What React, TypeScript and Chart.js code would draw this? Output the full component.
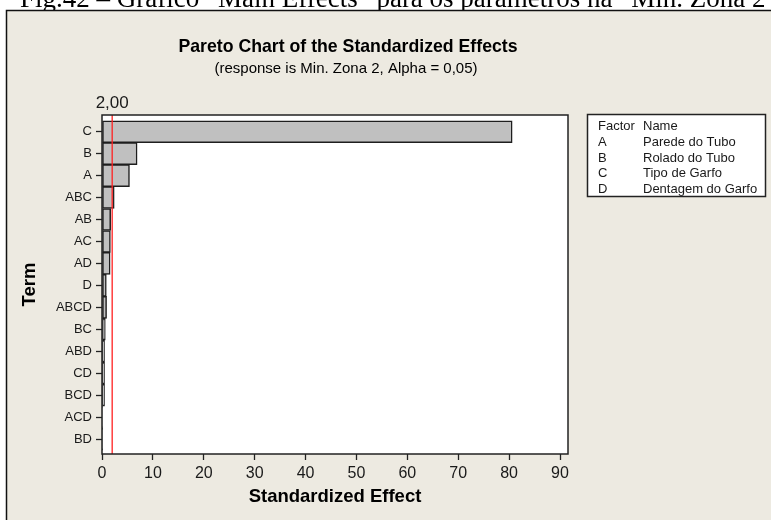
import React, { useEffect, useRef } from 'react';
import { Chart, registerables } from 'chart.js';

Chart.register(...registerables);

const terms = ['C', 'B', 'A', 'ABC', 'AB', 'AC', 'AD', 'D', 'ABCD', 'BC', 'ABD', 'CD', 'BCD', 'ACD', 'BD'];
const effects = [80.6, 6.9, 5.4, 2.4, 1.7, 1.65, 1.6, 0.85, 0.9, 0.65, 0.5, 0.5, 0.5, 0.1, 0.05];
const xTickValues = [0, 10, 20, 30, 40, 50, 60, 70, 80, 90];
const criticalValue = 2.0;
const criticalLabel = '2,00';
const legendHeader = ['Factor', 'Name'];
const factorCodes = ['A', 'B', 'C', 'D'];
const factorNames = ['Parede do Tubo', 'Rolado do Tubo', 'Tipo de Garfo', 'Dentagem do Garfo'];
const chartTitle = 'Pareto Chart of the Standardized Effects';
const chartSubtitle = '(response is Min. Zona 2, Alpha = 0,05)';
const xTitle = 'Standardized Effect';
const yTitle = 'Term';
const caption = 'Fig.42 – Gráfico “Main Effects” para os parâmetros na “Min. Zona 2”';

const W = 771;
const H = 520;
const BEIGE = '#EDEAE1';
const INK = '#1a1a1a';
const SANS = '"Liberation Sans", Arial, sans-serif';

const decor = {
  id: 'decor',
  beforeDraw(chart: any) {
    const ctx = chart.ctx as CanvasRenderingContext2D;
    const a = chart.chartArea;
    ctx.save();
    ctx.fillStyle = '#ffffff';
    ctx.fillRect(0, 0, W, H);
    ctx.fillStyle = '#000';
    ctx.font = '27px "Liberation Serif", serif';
    ctx.textAlign = 'left';
    ctx.textBaseline = 'alphabetic';
    ctx.fillText(caption, 20, 7);
    ctx.fillStyle = BEIGE;
    ctx.fillRect(6, 10, W, H);
    ctx.strokeStyle = '#111';
    ctx.lineWidth = 1.5;
    ctx.beginPath();
    ctx.moveTo(6.5, H);
    ctx.lineTo(6.5, 10.5);
    ctx.lineTo(W, 10.5);
    ctx.stroke();
    ctx.fillStyle = '#ffffff';
    ctx.fillRect(a.left, a.top, a.right - a.left, a.bottom - a.top);
    ctx.restore();
  },
  afterDatasetsDraw(chart: any) {
    const ctx = chart.ctx as CanvasRenderingContext2D;
    const a = chart.chartArea;
    const xs = chart.scales.x;
    const rx = xs.getPixelForValue(criticalValue);
    ctx.save();
    ctx.strokeStyle = '#ff2020';
    ctx.lineWidth = 1.3;
    ctx.beginPath();
    ctx.moveTo(rx, a.top);
    ctx.lineTo(rx, a.bottom);
    ctx.stroke();
    ctx.strokeStyle = '#222';
    ctx.lineWidth = 1.5;
    ctx.strokeRect(a.left, a.top, a.right - a.left, a.bottom - a.top);
    ctx.restore();
  },
  afterDraw(chart: any) {
    const ctx = chart.ctx as CanvasRenderingContext2D;
    const a = chart.chartArea;
    const xs = chart.scales.x;
    const rx = xs.getPixelForValue(criticalValue);
    ctx.save();
    ctx.fillStyle = '#000';
    ctx.textAlign = 'center';
    ctx.textBaseline = 'middle';
    ctx.font = 'bold 17.7px ' + SANS;
    ctx.fillText(chartTitle, 348, 47);
    ctx.font = '15px ' + SANS;
    ctx.fillText(chartSubtitle, 346, 69);
    ctx.fillStyle = INK;
    ctx.font = '17px ' + SANS;
    ctx.fillText(criticalLabel, rx, 103);
    ctx.fillStyle = '#000';
    ctx.font = 'bold 18.5px ' + SANS;
    ctx.fillText(xTitle, (a.left + a.right) / 2, 497);
    ctx.save();
    ctx.translate(30, (a.top + a.bottom) / 2);
    ctx.rotate(-Math.PI / 2);
    ctx.fillText(yTitle, 0, 0);
    ctx.restore();

    // legend box
    ctx.fillStyle = '#ffffff';
    ctx.fillRect(587, 115, 178, 82);
    ctx.strokeStyle = '#222';
    ctx.lineWidth = 1.5;
    ctx.strokeRect(587.5, 114.5, 178, 82);
    ctx.fillStyle = INK;
    ctx.textAlign = 'left';
    ctx.font = '13px ' + SANS;
    const col1 = 598;
    const col2 = 643;
    const rows = [126, 142, 158, 173, 189];
    ctx.fillText(legendHeader[0], col1, rows[0]);
    ctx.fillText(legendHeader[1], col2, rows[0]);
    factorCodes.forEach((c, i) => {
      ctx.fillText(c, col1, rows[i + 1]);
      ctx.fillText(factorNames[i], col2, rows[i + 1]);
    });
    ctx.restore();
  },
};

export default function App() {
  const ref = useRef<HTMLCanvasElement | null>(null);
  useEffect(() => {
    if (!ref.current) return;
    const tickGrid = {
      display: true,
      offset: false,
      drawOnChartArea: false,
      drawTicks: true,
      tickLength: 6,
      tickColor: '#222',
      tickWidth: 1.3,
    };
    const chart = new Chart(ref.current, {
      type: 'bar',
      data: {
        labels: terms,
        datasets: [
          {
            data: effects.map((v, i) => ({ x: v, y: i })) as any,
            backgroundColor: '#C0C0C0',
            borderColor: '#1e1e1e',
            borderWidth: 1.5,
            borderSkipped: false,
            barPercentage: 1,
            categoryPercentage: 1,
          },
        ],
      },
      options: {
        responsive: false,
        animation: false,
        devicePixelRatio: 1,
        indexAxis: 'y',
        layout: { padding: { left: 0, right: 203, top: 115, bottom: 0 } },
        plugins: {
          legend: { display: false },
          tooltip: { enabled: false },
          title: { display: false },
        },
        scales: {
          x: {
            type: 'linear',
            position: 'bottom',
            offset: false,
            min: 0,
            max: 91.57,
            afterBuildTicks: (s: any) => {
              s.ticks = xTickValues.map((v) => ({ value: v }));
            },
            afterFit: (s: any) => {
              s.height = 66;
            },
            grid: tickGrid,
            border: { display: false },
            ticks: {
              color: INK,
              font: { family: SANS, size: 16 },
              padding: 4,
              maxRotation: 0,
              autoSkip: false,
            },
          },
          y: {
            type: 'linear',
            position: 'left',
            offset: false,
            min: -0.76,
            max: 14.68,
            reverse: true,
            afterBuildTicks: (s: any) => {
              s.ticks = terms.map((_, i) => ({ value: i }));
            },
            afterFit: (s: any) => {
              s.width = 102;
            },
            grid: tickGrid,
            border: { display: false },
            ticks: {
              color: INK,
              font: { family: SANS, size: 13 },
              padding: 4,
              autoSkip: false,
              callback: (v: any) => terms[Math.round(Number(v))] ?? '',
            },
          },
        } as any,
      },
      plugins: [decor],
    });
    return () => chart.destroy();
  }, []);
  return (
    <div style={{ position: 'fixed', left: 0, top: 0, width: W, height: H, overflow: 'hidden' }}>
      <canvas ref={ref} width={W} height={H} style={{ display: 'block', width: W, height: H }} />
    </div>
  );
}
